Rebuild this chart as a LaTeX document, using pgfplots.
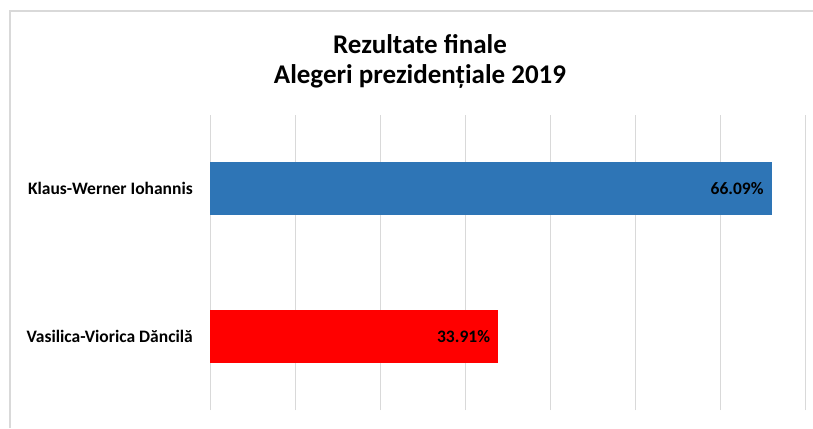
\documentclass[border=0pt]{standalone}
\usepackage{pgfplots}
\pgfplotsset{compat=1.18}
\usepackage{fontspec}
\setmainfont{Carlito}
\definecolor{barblue}{HTML}{2E75B6}
\definecolor{gridgray}{HTML}{D9D9D9}
\begin{document}
\begin{tikzpicture}
\path[use as bounding box] (0pt,0pt) rectangle (813pt,428pt);
\draw[gridgray, line width=1.5pt] (10pt,0pt) -- (10pt,417pt) -- (813pt,417pt);
\node[font=\bfseries\fontsize{27}{30}\selectfont, align=center] at (420pt,367pt) {Rezultate finale\\Alegeri prezidențiale 2019};
\begin{axis}[
  at={(210pt,18pt)}, anchor=south west,
  width=595pt, height=295pt, scale only axis,
  xmin=0, xmax=70, ymin=-0.5, ymax=1.5,
  xbar, bar width=53pt, bar shift=0pt,
  axis line style={draw=none},
  xmajorgrids, grid style={color=gridgray, line width=1pt},
  xtick={0,10,...,70}, xticklabels={},
  ytick={0,1},
  yticklabels={Vasilica-Viorica Dăncilă, Klaus-Werner Iohannis},
  yticklabel style={font=\bfseries\fontsize{17.5}{20}\selectfont, inner sep=0pt, xshift=-17pt},
  major tick length=0pt,
  point meta=explicit symbolic,
  nodes near coords={\pgfplotspointmeta\%},
  nodes near coords style={anchor=east, inner sep=0pt, xshift=-8pt, font=\bfseries\fontsize{17.5}{20}\selectfont, text=black},
]
\addplot[fill=barblue, draw=none] coordinates {(66.09,1) [66.09]};
\addplot[fill=red, draw=none] coordinates {(33.91,0) [33.91]};
\end{axis}
\end{tikzpicture}
\end{document}
